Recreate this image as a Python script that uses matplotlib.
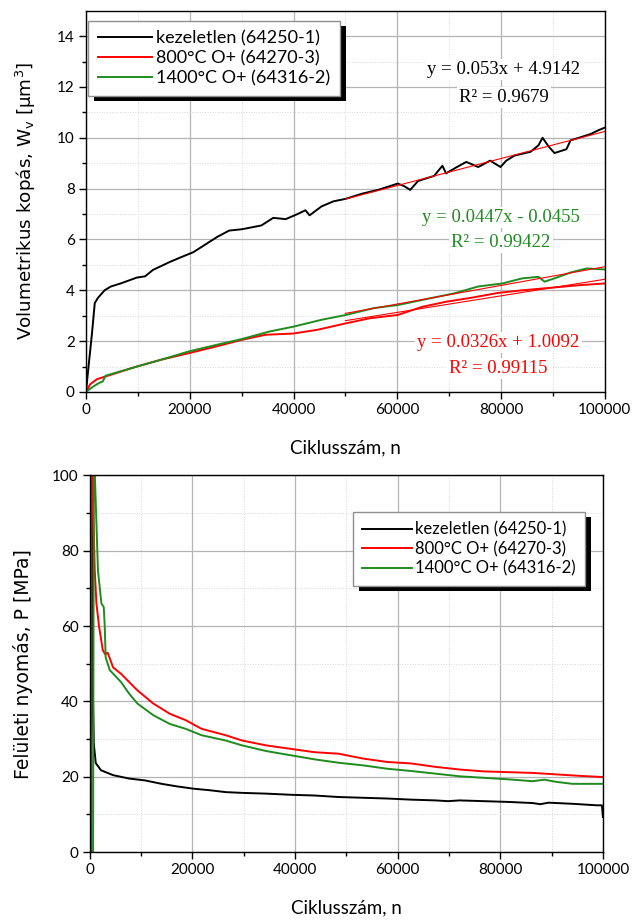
import matplotlib
matplotlib.use("Agg")
import matplotlib.pyplot as plt
from matplotlib.patches import Rectangle
import numpy as np

# --- data ---
labels = ['kezeletlen (64250-1)', '800°C O+ (64270-3)', '1400°C O+ (64316-2)']
colors = ['black', '#ff0000', '#1e8c1e']

# top: volumetric wear
wv_black_x = [0, 600, 1160, 1700, 2300, 3600, 4800, 6700, 9800, 11400, 12900, 16000, 18300,
              20700, 23000, 25300, 27600, 30000, 33800, 36100, 38500, 40800, 42300, 43100,
              45400, 47700, 50100, 53200, 56300, 58600, 60100, 61300, 62500, 64000, 67100,
              68700, 69400, 71500, 73300, 75600, 77900, 79900, 81000, 82600, 85700, 87200,
              88000, 89200, 90300, 92600, 93400, 95000, 97300, 98800, 100000]
wv_black_y = [0, 1.2, 2.3, 3.5, 3.7, 4.0, 4.15, 4.27, 4.5, 4.55, 4.8, 5.1, 5.3,
              5.5, 5.8, 6.1, 6.35, 6.4, 6.55, 6.85, 6.8, 7.0, 7.15, 6.95,
              7.3, 7.5, 7.6, 7.8, 7.95, 8.1, 8.2, 8.1, 7.95, 8.3, 8.5,
              8.9, 8.6, 8.85, 9.05, 8.85, 9.1, 8.85, 9.1, 9.3, 9.45, 9.7,
              10.0, 9.65, 9.4, 9.55, 9.9, 10.0, 10.15, 10.3, 10.4]
wv_red_x = [0, 800, 2100, 3600, 9800, 14500, 19900, 25300, 30000, 34600, 40000, 44700,
            50100, 54700, 60100, 64800, 69400, 74100, 79500, 84100, 89600, 95000, 100000]
wv_red_y = [0, 0.3, 0.5, 0.6, 1.0, 1.27, 1.53, 1.8, 2.05, 2.25, 2.3, 2.45,
            2.7, 2.9, 3.03, 3.35, 3.55, 3.7, 3.9, 4.0, 4.1, 4.2, 4.27]
wv_green_x = [0, 1300, 2500, 3250, 3800, 9800, 14500, 19900, 25300, 30000, 35400, 40000,
              45400, 50100, 55500, 60100, 64800, 67900, 71000, 75600, 80300, 84100, 87200,
              88400, 90300, 93400, 96500, 100000]
wv_green_y = [0, 0.2, 0.35, 0.42, 0.64, 1.0, 1.27, 1.6, 1.86, 2.08, 2.38, 2.57,
              2.84, 3.03, 3.3, 3.42, 3.62, 3.75, 3.88, 4.15, 4.27, 4.47, 4.53,
              4.34, 4.47, 4.7, 4.86, 4.82]
fit_texts = [('y = 0.053x + 4.9142', 'R² = 0.9679'),
             ('y = 0.0326x + 1.0092', 'R² = 0.99115'),
             ('y = 0.0447x - 0.0455', 'R² = 0.99422')]
fit_start = 50000

# bottom: surface pressure
p_black_x = [300, 350, 470, 650, 790, 1170, 2200, 4560, 7700, 10800, 14000, 17100, 20300,
             23400, 26500, 29700, 34400, 39100, 43800, 48500, 53300, 58000, 62700, 67400,
             69800, 72100, 76800, 81500, 86300, 87800, 89400, 94100, 98800, 99800, 100000]
p_black_y = [0, 110, 60, 39.5, 28.8, 23.6, 21.7, 20.4, 19.5, 19.0, 18.1, 17.4, 16.8,
             16.4, 15.9, 15.7, 15.5, 15.2, 15.0, 14.6, 14.4, 14.2, 13.9, 13.7,
             13.5, 13.7, 13.5, 13.3, 13.0, 12.7, 13.1, 12.8, 12.4, 12.4, 9.3]
p_red_x = [250, 330, 975, 1300, 1800, 2540, 3000, 3500, 4550, 6100, 7700, 9300, 12400,
           15600, 18700, 21800, 26500, 29700, 34400, 39100, 43800, 48500, 53300, 58000,
           62700, 67400, 72100, 76800, 81500, 86300, 91000, 95700, 100000]
p_red_y = [0, 110, 74.8, 66, 60, 53.6, 52.5, 52.9, 49, 47.3, 45.1, 42.9, 39.4,
           36.7, 35, 32.7, 31, 29.6, 28.3, 27.4, 26.5, 26.1, 24.8, 23.9,
           23.5, 22.6, 21.9, 21.4, 21.2, 21.0, 20.6, 20.2, 19.9]
p_green_x = [650, 800, 1000, 1600, 2270, 2730, 2920, 3100, 3900, 6100, 7700, 9300, 12400,
             15600, 18700, 21800, 26500, 29700, 34400, 39100, 43800, 48500, 53300, 58000,
             62700, 67400, 72100, 76800, 81500, 86300, 88600, 91000, 94100, 100000]
p_green_y = [0, 110, 100, 74.8, 66, 65, 60, 51.7, 48.3, 45.1, 42, 39.4, 36.3,
             34, 32.7, 31, 29.6, 28.3, 26.8, 25.7, 24.6, 23.7, 23.0, 22.1,
             21.5, 20.8, 20.1, 19.7, 19.3, 18.8, 19.2, 18.6, 18.1, 18.1]

tick_font = 'Lato'
fig = plt.figure(figsize=(6.32, 9.21), dpi=100)


def style_axes(ax, xmax, ymax, ymajor):
    ax.set_xlim(0, xmax)
    ax.set_ylim(0, ymax)
    ax.set_xticks(np.arange(0, xmax + 1, 20000))
    ax.set_xticks(np.arange(10000, xmax, 20000), minor=True)
    ax.set_yticks(np.arange(0, ymax + 0.01, ymajor))
    ax.set_yticks(np.arange(ymajor / 2, ymax, ymajor), minor=True)
    ax.grid(True, which='major', color='#b4b4b4', lw=0.9, ls='-')
    ax.grid(True, which='minor', color='#d6d6d6', lw=0.7, ls=':')
    ax.set_axisbelow(True)
    ax.tick_params(which='major', direction='out', length=5, width=1, labelsize=11, pad=3)
    ax.tick_params(which='minor', direction='out', length=3, width=1)
    for lab in ax.get_xticklabels() + ax.get_yticklabels():
        lab.set_family(tick_font)
    for sp in ax.spines.values():
        sp.set_linewidth(1.0)
    ax.set_xlabel('Ciklusszám, n', family=tick_font, fontsize=13.5, labelpad=16)


def add_legend(ax, loc, anchor, size):
    leg = ax.legend(loc=loc, bbox_to_anchor=anchor, borderaxespad=0, fancybox=False,
                    framealpha=1, edgecolor='#909090', handlelength=3.0,
                    handletextpad=0.2, labelspacing=0.2, borderpad=0.55,
                    prop={'family': tick_font, 'size': size})
    leg.get_frame().set_linewidth(1.0)
    return leg


def add_shadow(ax, leg, dx=6, dy=-5):
    # solid black drop shadow, offset in pixels like the original
    fig.canvas.draw()
    bb = leg.get_window_extent()
    ax.add_patch(Rectangle((bb.x0 + dx, bb.y0 + dy), bb.width, bb.height,
                           transform=None, facecolor='black', edgecolor='none',
                           zorder=4.9, clip_on=False))


# ---------- top chart ----------
ax1 = fig.add_axes([0.136, 0.5744, 0.821, 0.414])
series_top = [(wv_black_x, wv_black_y), (wv_red_x, wv_red_y), (wv_green_x, wv_green_y)]
for (xs, ys), c, lab in zip(series_top, colors, labels):
    ax1.plot(xs, ys, color=c, lw=1.4, label=lab)
# linear fits over the second half, drawn thin red like the original
for xs, ys in series_top:
    xs = np.array(xs)
    ys = np.array(ys)
    m = xs >= fit_start
    k, b = np.polyfit(xs[m], ys[m], 1)
    xf = np.array([fit_start, 100000])
    ax1.plot(xf, k * xf + b, color='#ff0000', lw=0.8)
style_axes(ax1, 100000, 15, 2)
ax1.set_ylabel('Volumetrikus kopás, W$_\\mathregular{v}$ [µm$^\\mathregular{3}$]',
               fontsize=13.2, labelpad=14)
leg1 = add_legend(ax1, 'upper left', (0.004, 0.974), 13)

eq_pos = [(80500, 12.67, 11.6), (79500, 1.96, 0.94), (80000, 6.86, 5.88)]
for (t1, t2), c, (xp, y1, y2) in zip(fit_texts, colors, eq_pos):
    for t, yp in ((t1, y1), (t2, y2)):
        ax1.text(xp, yp, t, color=c, family='Liberation Serif', fontsize=13.5,
                 ha='center', va='center',
                 bbox=dict(facecolor='white', edgecolor='none', pad=1.5))

# ---------- bottom chart ----------
ax2 = fig.add_axes([0.142, 0.0749, 0.812, 0.409])
series_bot = [(p_black_x, p_black_y), (p_red_x, p_red_y), (p_green_x, p_green_y)]
for (xs, ys), c, lab in zip(series_bot, colors, labels):
    ax2.plot(xs, ys, color=c, lw=1.4, label=lab)
style_axes(ax2, 100000, 100, 20)
ax2.set_ylabel('Felületi nyomás, P [MPa]', fontsize=13.5, labelpad=14)
leg2 = add_legend(ax2, 'upper right', (0.965, 0.902), 12)

add_shadow(ax1, leg1)
add_shadow(ax2, leg2)

fig.savefig('out.png', dpi=100)
